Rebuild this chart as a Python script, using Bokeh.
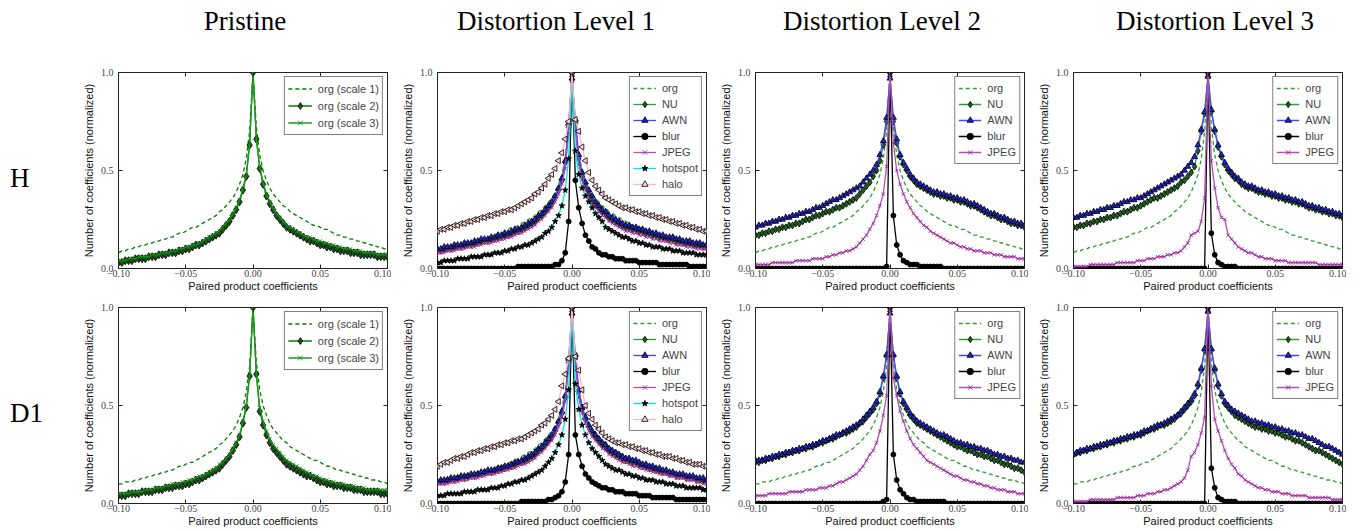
from bokeh.plotting import figure
from bokeh.models import (Range1d, FixedTicker, CustomJSTickFormatter, LinearAxis,
                          Legend, LegendItem, Div, ColumnDataSource)
from bokeh.layouts import row, column
from bokeh.embed import file_html
from bokeh.resources import INLINE
import math

# bin centres of the paired-product histogram (81 bins, -0.1 .. 0.1)
X = [round(-0.1 + 0.0025 * i, 4) for i in range(81)]
X_TICKS = [-0.1, -0.05, 0.0, 0.05, 0.1]
Y_TICKS = [0.0, 0.5, 1.0]
COL_TITLES = ["Pristine", "Distortion Level 1", "Distortion Level 2", "Distortion Level 3"]
ROW_LABELS = ["H", "D1"]
X_LABEL = "Paired product coefficients"
Y_LABEL = "Number of coefficients (normalized)"

# values in percent of the normalised count (left tail .. centre .. right tail)
H_ORG = [8,9,9,10,10,11,11,12,12,13, 13,14,14,15,15,16,16,17,18,18, 19,20,21,21,22,23,24,25,26,27, 29,30,32,34,36,39,43,48,56,70] + [100] + [72,58,50,45,41,38,36,34,32,31, 29,28,27,26,25,24,23,22,22,21, 20,20,19,18,17,17,16,16,15,15, 14,14,13,13,12,12,11,11,10,10]
H_P_S2 = [3,3,4,4,4,5,5,5,5,6, 6,6,7,7,7,8,8,8,9,9, 10,10,11,12,12,13,14,15,16,17, 18,20,22,24,27,30,34,40,47,63] + [100] + [66,51,43,37,33,30,27,25,23,21, 20,19,18,17,16,15,14,14,13,12, 12,11,11,10,10,9,9,9,8,8, 8,7,7,7,7,7,6,6,6,6]
H_P_S3 = [4,4,4,5,5,5,6,6,6,6, 7,7,7,8,8,8,9,9,10,10, 11,11,12,12,13,14,15,16,17,18, 19,21,23,25,28,31,35,41,48,64] + [100] + [66,52,44,38,34,31,28,26,24,22, 21,20,19,18,17,16,16,15,14,14, 13,13,12,12,11,11,10,10,10,9, 9,9,8,8,8,8,7,7,7,7]

D1_ORG = [10,10,11,11,11,12,12,13,13,14, 14,15,15,16,16,17,17,18,19,19, 20,21,21,22,23,24,25,26,27,28, 30,31,33,35,37,40,44,49,57,70] + [100] + [72,58,50,45,41,38,36,34,32,31, 29,28,27,26,25,24,23,22,22,21, 20,19,19,18,17,17,16,16,15,15, 14,14,13,13,12,12,12,11,11,10]
D1_P_S2 = [4,4,4,5,5,5,5,6,6,6, 6,7,7,7,8,8,8,9,9,9, 10,10,11,12,12,13,14,15,16,17, 18,20,22,24,27,30,34,41,49,65] + [100] + [66,47,40,35,31,28,26,24,22,20, 19,18,17,16,15,14,14,13,12,11, 11,10,10,9,9,9,8,8,8,7, 7,7,6,6,6,6,6,5,5,5]
D1_P_S3 = [5,5,5,5,6,6,6,6,7,7, 7,8,8,8,9,9,10,10,10,11, 11,12,12,13,14,14,15,16,17,18, 20,21,23,25,28,31,35,42,50,66] + [100] + [66,49,42,37,33,30,28,26,24,22, 21,20,19,18,17,16,15,14,14,13, 12,12,11,11,10,10,10,9,9,9, 8,8,8,7,7,7,7,7,7,7]

H_L1_NU = [9,9,10,10,10,11,11,11,12,12, 12,13,13,14,14,14,15,15,16,16, 17,17,18,19,19,20,21,22,23,24, 26,27,29,31,33,36,40,45,54,72] + [98] + [74,56,47,42,38,35,33,31,29,28, 26,25,24,23,22,21,21,20,20,19, 19,18,18,17,17,16,16,15,15,15, 14,14,13,13,13,12,12,12,11,11]
H_L1_AWN = [10,10,11,11,11,12,12,12,13,13, 13,14,14,15,15,15,16,16,17,17, 18,18,19,20,20,21,22,23,24,25, 27,28,30,32,34,37,41,46,55,74] + [97] + [76,58,49,44,40,37,34,32,30,29, 27,26,25,24,23,22,22,21,21,20, 20,19,19,18,18,17,17,16,16,16, 15,15,14,14,14,13,13,13,12,12]
H_L1_BLUR = [0,0,0,0,0,0,0,0,0,0, 0,0,0,0,0,0,0,0,0,0, 0,0,0,0,1,1,1,1,1,1, 1,1,1,1,1,2,2,4,8,24] + [100] + [45,31,23,17,14,11,10,8,7,7, 6,6,5,5,5,4,4,4,4,3, 3,3,3,3,3,2,2,2,2,2, 2,2,2,2,1,1,1,1,1,1]
H_L1_JPEG = [8,8,8,9,9,9,10,10,10,11, 11,11,12,12,13,13,13,14,14,15, 15,16,16,17,18,18,19,20,21,22, 24,25,27,29,31,34,38,43,51,69] + [95] + [70,53,45,40,36,33,31,29,27,26, 24,23,22,21,20,19,19,18,18,17, 17,16,16,15,15,14,14,14,13,13, 12,12,12,11,11,11,10,10,10,10]
H_L1_HOT = [3,3,4,4,4,4,5,5,5,5, 6,6,6,6,7,7,7,8,8,8, 9,9,10,10,11,11,12,12,13,14, 15,16,18,19,21,24,27,32,40,56] + [96] + [60,48,41,37,34,31,28,26,24,21, 20,19,18,17,16,16,15,14,14,13, 13,12,12,11,11,11,10,10,10,9, 9,9,8,8,8,8,7,7,7,7]
H_L1_HALO = [19,20,20,21,21,22,22,23,23,24, 24,25,25,26,26,27,27,28,28,29, 29,30,30,31,32,33,34,35,36,38, 39,41,43,46,48,51,55,59,66,75] + [100] + [76,70,62,55,49,45,42,40,38,36, 35,34,33,32,31,31,30,30,29,29, 28,28,27,27,26,26,25,25,24,24, 23,23,22,22,21,21,20,20,19,19]

H_L2_NU = [17,17,18,18,19,19,20,20,21,21, 22,22,23,23,24,25,25,26,27,27, 28,29,29,30,31,31,32,33,34,35, 36,38,40,42,44,47,50,55,63,75] + [98] + [75,64,57,53,50,47,45,43,42,41, 40,39,38,38,37,37,36,36,35,35, 34,34,33,32,32,31,30,29,28,27, 27,26,25,25,24,23,23,22,22,21]
H_L2_AWN = [21,22,22,23,23,24,24,25,25,26, 26,27,27,28,28,29,29,30,31,31, 32,33,34,35,35,36,37,38,39,40, 41,42,44,46,48,50,53,58,65,77] + [97] + [77,66,58,54,51,48,46,44,43,42, 41,40,39,39,38,38,37,37,36,36, 35,35,34,33,33,32,31,30,29,28, 28,27,26,26,25,24,24,23,23,22]
H_L2_BLUR = [0,0,0,0,0,0,0,0,0,0, 0,0,0,0,0,0,0,0,0,0, 0,0,0,0,0,0,0,0,0,0, 0,0,0,0,0,0,0,0,0,1] + [100] + [27,12,7,4,3,2,2,2,1,1, 1,1,1,1,1,0,0,0,0,0, 0,0,0,0,0,0,0,0,0,0, 0,0,0,0,0,0,0,0,0,0]
H_L2_JPEG = [2,2,2,2,2,3,3,3,3,3, 3,3,4,4,4,4,4,5,5,5, 5,6,6,7,7,8,8,9,9,10, 11,13,15,17,20,23,27,32,38,52] + [100] + [64,50,43,38,34,31,28,26,24,22, 21,19,18,17,16,15,14,13,13,12, 11,11,10,10,9,9,9,8,8,8, 7,7,7,6,6,6,6,5,5,5]

H_L3_NU = [21,21,22,22,23,23,24,24,25,25, 26,26,27,27,28,29,29,30,31,31, 32,33,34,35,36,36,37,38,39,40, 41,42,44,45,47,49,52,60,70,79] + [98] + [80,70,62,57,53,50,48,46,45,43, 42,41,41,40,39,39,38,38,37,37, 36,36,35,35,34,34,33,33,32,31, 31,30,30,29,29,28,28,27,27,26]
H_L3_AWN = [26,26,27,27,28,28,29,29,30,30, 31,31,32,32,33,34,34,35,35,36, 36,37,38,39,40,41,42,43,44,45, 46,47,48,50,52,54,57,63,71,80] + [98] + [81,71,63,58,54,51,49,47,46,44, 43,42,42,41,40,40,39,39,38,38, 37,37,36,36,35,35,34,34,33,32, 32,31,31,30,30,29,29,28,28,27]
H_L3_BLUR = [0,0,0,0,0,0,0,0,0,0, 0,0,0,0,0,0,0,0,0,0, 0,0,0,0,0,0,0,0,0,0, 0,0,0,0,0,0,0,0,0,0] + [100] + [18,7,3,2,1,1,1,1,0,0, 0,0,0,0,0,0,0,0,0,0, 0,0,0,0,0,0,0,0,0,0, 0,0,0,0,0,0,0,0,0,0]
H_L3_JPEG = [1,1,1,1,1,2,2,2,2,2, 2,2,2,3,3,3,3,3,3,4, 4,4,5,5,5,6,6,6,7,7, 8,8,9,11,13,17,18,19,24,36] + [100] + [55,41,31,26,25,17,15,13,11,10, 9,8,8,7,6,6,5,5,5,4, 4,4,4,3,3,3,3,3,3,3, 3,3,2,2,2,2,2,2,2,2]

D1_L1_NU = [11,11,11,12,12,12,13,13,13,14, 14,14,15,15,16,16,16,17,17,18, 18,19,19,20,21,21,22,23,24,25, 27,28,30,32,34,37,41,46,54,72] + [98] + [74,57,48,43,39,36,34,32,30,29, 27,26,25,24,23,22,22,21,21,20, 19,19,18,18,17,17,16,16,15,15, 14,14,14,13,13,13,12,12,12,11]
D1_L1_AWN = [11,12,12,12,13,13,13,14,14,14, 15,15,15,16,16,17,17,17,18,18, 19,19,20,21,21,22,23,24,25,26, 28,29,31,33,35,38,42,47,55,74] + [97] + [76,58,49,44,40,37,35,33,31,30, 28,27,26,25,24,23,23,22,22,21, 20,20,19,19,18,18,17,17,16,16, 15,15,15,14,14,14,13,13,13,12]
D1_L1_BLUR = [0,0,0,0,0,0,0,0,0,0, 0,0,0,0,0,0,0,0,0,0, 0,0,0,0,0,1,1,1,1,1, 1,1,1,2,2,3,4,6,11,25] + [100] + [35,25,19,15,13,11,10,9,8,8, 7,7,6,6,6,5,5,5,5,4, 4,4,4,3,3,3,3,3,3,3, 2,2,2,2,2,2,2,2,2,2]
D1_L1_JPEG = [10,10,10,10,11,11,11,12,12,12, 13,13,13,14,14,15,15,15,16,16, 17,17,18,18,19,20,20,21,22,23, 25,26,28,30,32,35,39,44,52,70] + [95] + [70,54,46,41,37,34,32,30,28,27, 25,24,23,22,21,21,20,19,19,18, 18,17,17,16,16,15,15,15,14,14, 13,13,13,12,12,12,11,11,10,10]
D1_L1_HOT = [4,4,4,5,5,5,5,5,6,6, 6,6,7,7,7,7,8,8,8,9, 9,10,10,11,11,12,12,13,14,15, 16,17,19,21,23,26,30,35,43,58] + [96] + [61,48,40,35,31,28,26,24,22,20, 19,18,17,17,16,15,15,14,14,13, 13,12,12,12,11,11,11,10,10,10, 9,9,9,8,8,8,8,8,7,7]
D1_L1_HALO = [19,20,21,21,22,23,23,24,24,25, 26,26,27,27,28,28,29,29,30,30, 31,31,32,32,33,33,34,35,36,37, 38,40,41,43,45,48,52,60,66,74] + [100] + [75,68,58,50,46,43,40,38,36,34, 33,32,31,31,30,30,29,29,28,28, 27,27,26,26,25,25,24,24,24,23, 23,22,22,21,21,20,20,20,19,19]

D1_L2_NU = [21,21,22,22,23,23,24,24,25,25, 26,26,27,27,28,28,29,29,30,31, 31,32,33,33,34,35,36,36,37,38, 39,41,42,44,46,48,51,56,64,75] + [98] + [75,64,56,51,48,45,43,41,40,39, 38,37,36,35,34,33,32,31,30,29, 29,28,27,27,26,25,25,24,24,23, 22,22,21,20,20,19,18,18,17,16]
D1_L2_AWN = [22,22,22,23,23,24,24,25,25,26, 26,27,27,28,28,29,29,30,30,31, 32,32,33,34,35,35,36,37,38,39, 40,41,43,45,47,49,52,57,65,76] + [97] + [76,65,57,52,49,46,44,42,41,40, 39,38,37,36,35,35,34,33,32,31, 31,30,30,29,29,28,28,27,27,26, 25,25,24,24,23,23,22,22,21,21]
D1_L2_BLUR = [0,0,0,0,0,0,0,0,0,0, 0,0,0,0,0,0,0,0,0,0, 0,0,0,0,0,0,0,0,0,0, 0,0,0,0,0,0,0,0,1,2] + [100] + [25,12,7,5,3,2,2,1,1,1, 1,1,1,1,1,1,0,0,0,0, 0,0,0,0,0,0,0,0,0,0, 0,0,0,0,0,0,0,0,0,0]
D1_L2_JPEG = [4,4,4,4,5,5,5,5,5,5, 6,6,6,6,6,7,7,7,7,8, 8,8,9,9,10,11,11,12,13,14, 15,17,19,22,25,27,31,37,45,55] + [100] + [64,55,47,42,37,33,30,28,26,24, 22,21,20,19,18,17,16,15,14,14, 13,12,12,11,11,10,10,9,9,8, 8,7,7,7,6,6,6,5,5,5]

D1_L3_NU = [25,26,26,27,27,28,28,29,29,30, 30,31,31,32,32,33,33,34,34,35, 35,36,37,38,38,39,40,40,41,42, 43,45,46,48,50,52,55,60,68,78] + [98] + [78,68,60,55,51,49,47,45,44,43, 42,41,40,39,39,38,38,37,37,36, 36,35,34,34,33,32,32,31,30,29, 28,27,27,26,25,24,23,22,21,20]
D1_L3_AWN = [25,26,27,27,28,28,29,29,30,30, 31,31,32,32,33,33,34,34,35,35, 36,37,37,38,39,40,40,41,42,43, 44,45,47,49,51,53,56,61,69,79] + [98] + [79,69,61,56,52,50,48,47,46,45, 44,43,42,42,41,41,40,40,39,39, 38,38,37,37,36,36,35,35,34,33, 33,32,31,30,29,29,28,27,26,25]
D1_L3_BLUR = [0,0,0,0,0,0,0,0,0,0, 0,0,0,0,0,0,0,0,0,0, 0,0,0,0,0,0,0,0,0,0, 0,0,0,0,0,0,0,0,0,0] + [100] + [18,8,3,2,1,1,1,1,0,0, 0,0,0,0,0,0,0,0,0,0, 0,0,0,0,0,0,0,0,0,0, 0,0,0,0,0,0,0,0,0,0]
D1_L3_JPEG = [1,1,1,1,1,2,2,2,2,2, 2,2,2,3,3,3,3,3,3,4, 4,4,5,5,5,6,6,7,7,8, 9,10,11,13,17,24,26,30,36,44] + [100] + [60,43,37,32,27,23,20,18,15,14, 12,11,10,9,8,8,7,7,6,6, 6,5,5,5,4,4,4,4,4,3, 3,3,3,3,3,3,2,2,2,2]

PANELS = [
    [[("org (scale 1)", H_ORG), ("org (scale 2)", H_P_S2), ("org (scale 3)", H_P_S3)],
     [("org", H_ORG), ("NU", H_L1_NU), ("AWN", H_L1_AWN), ("blur", H_L1_BLUR), ("JPEG", H_L1_JPEG), ("hotspot", H_L1_HOT), ("halo", H_L1_HALO)],
     [("org", H_ORG), ("NU", H_L2_NU), ("AWN", H_L2_AWN), ("blur", H_L2_BLUR), ("JPEG", H_L2_JPEG)],
     [("org", H_ORG), ("NU", H_L3_NU), ("AWN", H_L3_AWN), ("blur", H_L3_BLUR), ("JPEG", H_L3_JPEG)]],
    [[("org (scale 1)", D1_ORG), ("org (scale 2)", D1_P_S2), ("org (scale 3)", D1_P_S3)],
     [("org", D1_ORG), ("NU", D1_L1_NU), ("AWN", D1_L1_AWN), ("blur", D1_L1_BLUR), ("JPEG", D1_L1_JPEG), ("hotspot", D1_L1_HOT), ("halo", D1_L1_HALO)],
     [("org", D1_ORG), ("NU", D1_L2_NU), ("AWN", D1_L2_AWN), ("blur", D1_L2_BLUR), ("JPEG", D1_L2_JPEG)],
     [("org", D1_ORG), ("NU", D1_L3_NU), ("AWN", D1_L3_AWN), ("blur", D1_L3_BLUR), ("JPEG", D1_L3_JPEG)]],
]

STYLE = {
    "org (scale 1)": dict(color="#008000", dash="4 3"),
    "org (scale 2)": dict(color="#008000", marker="diamond", size=8, fill="#1d521d", edge="#000000"),
    "org (scale 3)": dict(color="#1c9a1c", marker="x", size=5, fill="#0d800d", edge="#0d800d"),
    "org": dict(color="#2ca02c", dash="4 3"),
    "NU": dict(color="#3a9a3a", marker="diamond", size=7, fill="#1f5f1f", edge="#000000"),
    "AWN": dict(color="#4646ff", marker="triangle", size=6, fill="#2020d0", edge="#000000"),
    "blur": dict(color="#000000", marker="circle", size=5, fill="#000000", edge="#000000"),
    "JPEG": dict(color="#b050b0", marker="x", size=5, fill="#9a1a9a", edge="#9a1a9a"),
    "hotspot": dict(color="#00e6e6", marker="star", size=6, fill="#000000", edge="#000000"),
    "halo": dict(color="#ffb6c1", marker="triangle", size=6, fill="#ffd8de", edge="#000000", angle=math.pi / 2),
}

ROWLAB_W = 72
TITLE_H = 68
FRAME_W = 269
FRAME_H = 196
LEFT_B = [46, 46, 45, 45]
RIGHT_B = 4
TOP_B = 4
BOTTOM_B = [35, 27]

xfmt = "var s = Math.abs(tick).toFixed(2); return (tick < -1e-9 ? '\\u2212' : '') + s;"
yfmt = "return tick.toFixed(1);"


def make_panel(series, ci, ri):
    lb = LEFT_B[ci]
    bb = BOTTOM_B[ri]
    p = figure(width=lb + FRAME_W + RIGHT_B, height=TOP_B + FRAME_H + bb,
               x_range=Range1d(-0.1, 0.1), y_range=Range1d(0, 1),
               output_backend="svg", toolbar_location=None,
               min_border_left=lb, min_border_right=RIGHT_B,
               min_border_top=TOP_B, min_border_bottom=bb)
    p.grid.visible = False
    p.outline_line_color = "#222222"
    p.outline_line_width = 1
    p.background_fill_color = "white"
    p.border_fill_color = "white"

    xa = p.below[0]
    ya = p.left[0]
    for ax, tks, code in ((xa, X_TICKS, xfmt), (ya, Y_TICKS, yfmt)):
        ax.ticker = FixedTicker(ticks=tks)
        ax.formatter = CustomJSTickFormatter(code=code)
        ax.axis_line_color = None
        ax.major_tick_in = 4
        ax.major_tick_out = 0
        ax.major_tick_line_color = "#222222"
        ax.minor_tick_line_color = None
        ax.major_label_text_font = "Liberation Serif"
        ax.major_label_text_font_size = "10px"
        ax.major_label_text_color = "#444444"
        ax.axis_label_text_font = "Liberation Sans"
        ax.axis_label_text_font_size = "11px"
        ax.axis_label_text_font_style = "normal"
        ax.axis_label_text_color = "#111111"
    xa.axis_label = X_LABEL
    xa.major_label_standoff = 1
    xa.axis_label_standoff = 0
    ya.axis_label = Y_LABEL
    ya.major_label_standoff = 5
    ya.axis_label_standoff = 3

    # inward tick marks on the top and right edges (no labels)
    for place, tks in (("above", X_TICKS), ("right", Y_TICKS)):
        ax = LinearAxis(ticker=FixedTicker(ticks=tks), major_label_text_font_size="0px",
                        major_label_text_color=None,
                        major_label_standoff=0, major_tick_in=4, major_tick_out=0,
                        major_tick_line_color="#222222", minor_tick_line_color=None,
                        axis_line_color=None)
        p.add_layout(ax, place)

    items = []
    for name, vals in series:
        st = STYLE[name]
        src = ColumnDataSource(dict(x=X, y=[v / 100.0 for v in vals]))
        rs = [p.line("x", "y", source=src, line_color=st["color"], line_width=1.3,
                     line_dash=st.get("dash", "solid"))]
        if "marker" in st:
            rs.append(p.scatter("x", "y", source=src, marker=st["marker"], size=st["size"],
                                fill_color=st["fill"], line_color=st["edge"], line_width=0.8,
                                angle=st.get("angle", 0.0)))
        items.append(LegendItem(label=name, renderers=rs))

    pristine = ci == 0
    leg = Legend(items=items, location="top_right", margin=4, padding=3, spacing=0,
                 label_height=17 if pristine else 16, glyph_height=17 if pristine else 16,
                 glyph_width=24 if pristine else 23, label_standoff=6,
                 label_text_font="Liberation Sans", label_text_font_size="11px",
                 border_line_color="#000000", border_line_width=1,
                 background_fill_color="white", background_fill_alpha=1.0)
    p.add_layout(leg)
    return p


TITLE_X = [245, 556, 882, 1215]
TOTAL_W = ROWLAB_W + sum(LEFT_B[i] + FRAME_W + RIGHT_B for i in range(4))
font_serif = "font-family:'Liberation Serif','Times New Roman',serif;font-size:27px;line-height:27px;color:#000;white-space:nowrap;"
spans = "".join(
    f'<span style="position:absolute;left:{x}px;top:8px;transform:translateX(-50%);{font_serif}">{t}</span>'
    for x, t in zip(TITLE_X, COL_TITLES))
title_div = Div(text=f'<div style="position:relative;width:{TOTAL_W}px;height:{TITLE_H}px;">{spans}</div>',
                width=TOTAL_W, height=TITLE_H, margin=(0, 0, 0, 0))

rows = []
for ri in range(2):
    h = TOP_B + FRAME_H + BOTTOM_B[ri]
    lab = Div(text=f'<div style="position:relative;width:{ROWLAB_W}px;height:{h}px;">'
                   f'<span style="position:absolute;left:10px;top:97px;{font_serif}">{ROW_LABELS[ri]}</span></div>',
              width=ROWLAB_W, height=h, margin=(0, 0, 0, 0))
    figs = [make_panel(PANELS[ri][ci], ci, ri) for ci in range(4)]
    rows.append(row(lab, *figs, spacing=0))

layout = column(title_div, *rows, spacing=0)
open("out.html", "w").write(file_html(layout, INLINE))
